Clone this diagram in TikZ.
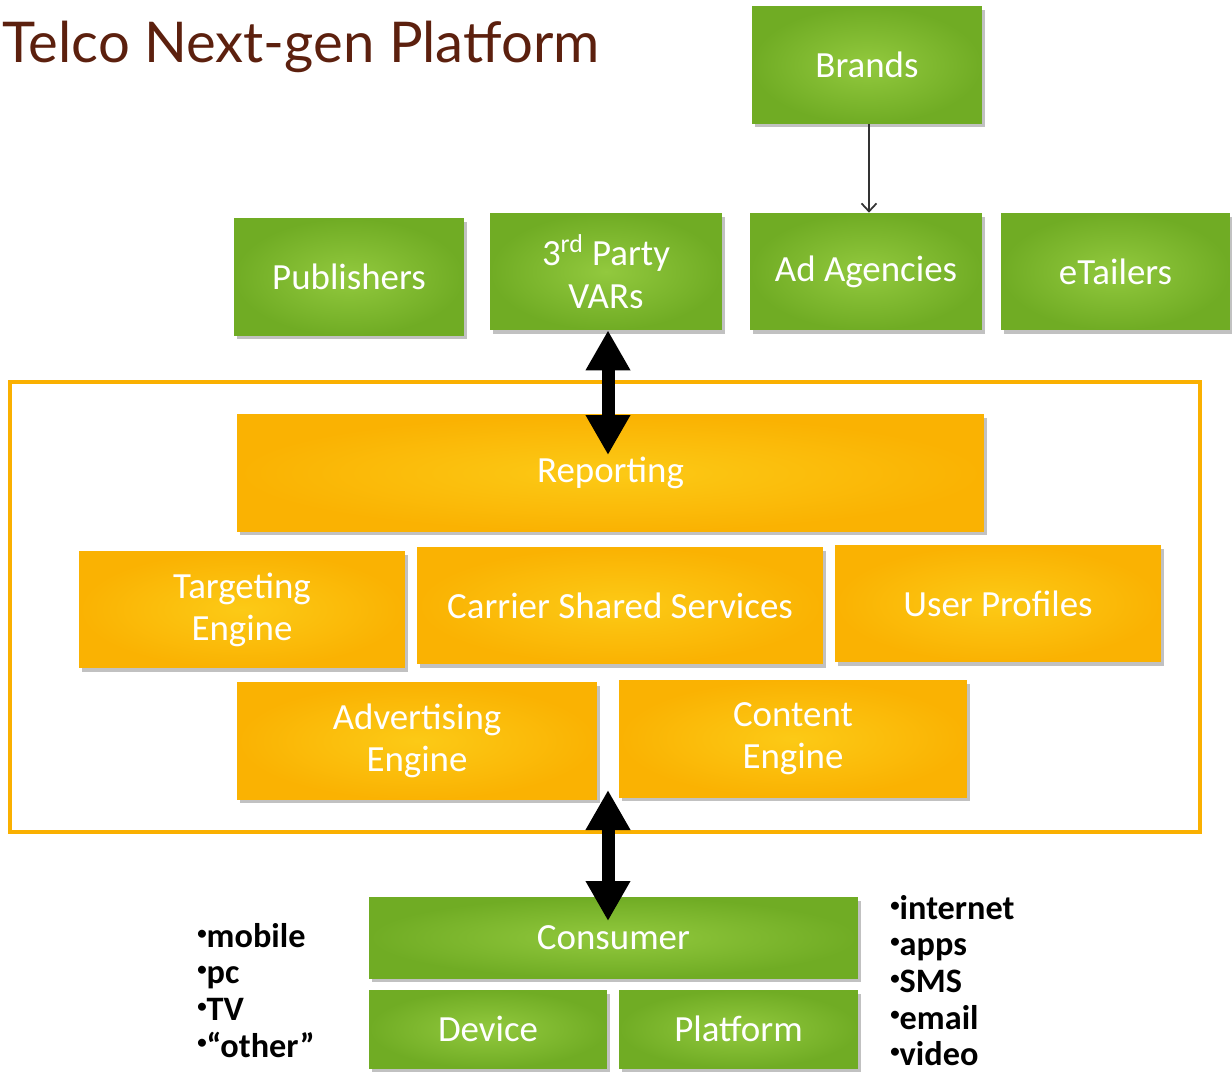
\documentclass[tikz,border=0pt]{standalone}
\usepackage{fontspec}
\usepackage{graphicx}
\setmainfont{Carlito}
\newfontfamily\titlefont{Lato}
\usetikzlibrary{arrows.meta,positioning,shadows}

\definecolor{telcobrown}{RGB}{92,32,14}
\definecolor{greenin}{RGB}{146,201,62}
\definecolor{greenout}{RGB}{112,172,36}
\definecolor{orangein}{RGB}{252,202,22}
\definecolor{orangeout}{RGB}{250,178,2}
\definecolor{framecol}{RGB}{250,176,0}
\newcommand{\bul}{\raisebox{0.5ex}{\scalebox{0.55}{\textbullet}}}

\begin{document}
\begin{tikzpicture}[x=0.02cm,y=-0.02cm,
  tile/.style={rectangle,inner sep=2pt,align=center,text=white,
    font=\fontsize{21}{24}\selectfont,
    drop shadow={shadow xshift=1.5pt,shadow yshift=-2pt,opacity=0.35,fill=black!70}},
  party/.style={tile,inner color=greenin,outer color=greenout,
    minimum width=4.6cm,minimum height=2.34cm},
  engine/.style={tile,inner color=orangein,outer color=orangeout,minimum height=2.34cm},
  user/.style={tile,inner color=greenin,outer color=greenout},
  bigarrow/.style={{Triangle[length=0.8cm,width=0.84cm]}-{Triangle[length=0.8cm,width=0.84cm]},
    line width=0.26cm,black},
  feed/.style={-{Straight Barb[length=1.6mm,width=3mm]},line width=1pt,black!80},
  bullets/.style={anchor=north west,inner sep=0pt,align=left,
    font=\fontsize{19.5}{20.8}\selectfont\bfseries}
]
  \useasboundingbox (0,0) rectangle (1232,1073);

  \node[anchor=base west,inner sep=0pt,text=telcobrown,
    font=\titlefont\fontsize{32}{36}\selectfont] (title) at (2,62) {Telco Next-gen Platform};

  % partners
  \node[party] (brands) at (867,65) {Brands};
  \node[party] (pub) at (349,277) {Publishers};
  \node[party,minimum width=4.64cm] (vars) at (606,271.5) {3\textsuperscript{rd} Party\\VARs};
  \node[party,minimum width=4.64cm] (adag) at (866,271.5) {Ad Agencies};
  \node[party,minimum width=4.58cm] (etail) at (1115.5,271.5) {eTailers};
  \draw[feed] (brands.south -| 869,0) -- (adag.north -| 869,0);

  % platform
  \draw[framecol,line width=2pt] (10,382) rectangle (1200,832);
  \node[engine,minimum width=14.94cm] (rep) at (610.5,473) {Reporting};
  \node[engine,minimum width=6.52cm] (target) at (242,609.5) {Targeting\\Engine};
  \node[engine,minimum width=8.12cm] (carrier) at (620,605.5) {Carrier Shared Services};
  \node[engine,minimum width=6.52cm] (profiles) at (998,603.5) {User Profiles};
  \node[engine,minimum width=7.2cm] (adeng) at (417,741) {Advertising\\Engine};
  \node[engine,minimum width=6.96cm] (content) at (793,738.5) {Content\\Engine};

  % consumer
  \node[user,minimum width=9.78cm,minimum height=1.62cm] (consumer) at (613.5,937.5) {Consumer};
  \node[user,minimum width=4.76cm,minimum height=1.56cm] (device) at (488,1029) {Device};
  \node[user,minimum width=4.78cm,minimum height=1.56cm] (platform) at (738.5,1029) {Platform};

  \node[bullets] (devlist) at (197,923) {\bul mobile\\\bul pc\\\bul TV\\\bul ``other''};
  \node[bullets] (chanlist) at (890,895) {\bul internet\\\bul apps\\\bul SMS\\\bul email\\\bul video};

  \coordinate (reptip) at (608,455);
  \coordinate (engtip) at (608,790);
  \coordinate (contip) at (608,921);
  \draw[bigarrow] (vars.south -| reptip) -- (reptip);
  \draw[bigarrow] (engtip) -- (contip);
\end{tikzpicture}
\end{document}
